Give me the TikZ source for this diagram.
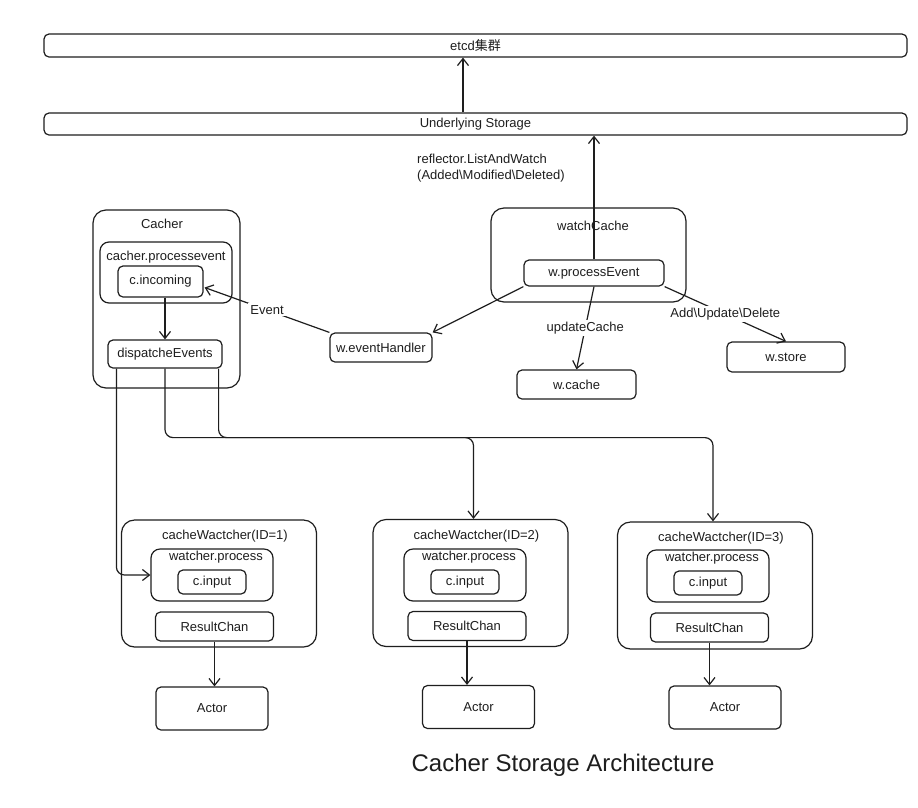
\documentclass[tikz,border=0pt]{standalone}
\usepackage{fontspec}
\setmainfont{Liberation Sans}
\newfontfamily\cjk{Noto Sans CJK SC}
\usetikzlibrary{arrows.meta,calc}
\definecolor{ink}{HTML}{1E1E1E}
\begin{document}
\begin{tikzpicture}[x=1pt,y=-1pt,
  lbl/.style={font=\fontsize{13}{16}\selectfont, text=ink, inner sep=1pt},
  box/.style={draw=ink, line width=1.2pt, rounded corners=5pt, inner sep=0pt, lbl},
  bigbox/.style={box, rounded corners=13pt},
  conn/.style={draw=ink, line width=1.2pt, -{Straight Barb[length=7pt,width=11pt]}},
  cutlbl/.style={lbl, fill=white, inner sep=2pt}]
\useasboundingbox (0,0) rectangle (918,807);
\fill[white] (0,0) rectangle (918,807);

% top bars
\node[box, minimum width=863pt, minimum height=23pt] (etcd) at (475.5,45.5) {etcd{\cjk 集群}};
\node[box, minimum width=863pt, minimum height=22pt] (und) at (475.5,124) {Underlying Storage};
\coordinate (ux) at (463,0);
\draw[conn] (ux |- und.north) -- (ux |- etcd.south);

% watchCache
\node[bigbox, minimum width=195pt, minimum height=94pt] (wc) at (588.5,255) {};
\node[lbl] (wclbl) at (593,226) {watchCache};
\node[box, minimum width=140pt, minimum height=26pt] (wpe) at (594,273) {w.processEvent};
\draw[conn] (wpe.north) -- (wpe.north |- und.south);
\node[lbl, anchor=west, align=left] (refl) at (416,168) {reflector.ListAndWatch\\(Added\textbackslash Modified\textbackslash Deleted)};

% Cacher
\node[bigbox, minimum width=147pt, minimum height=178pt] (cacher) at (166.5,299) {};
\node[lbl] (cacherlbl) at (162,224) {Cacher};
\node[box, rounded corners=9pt, minimum width=132pt, minimum height=61pt] (cpe) at (166,272.5) {};
\node[lbl] (cpelbl) at (166,257) {cacher.processevent};
\node[box, minimum width=85pt, minimum height=31pt] (cin) at (160.5,281.5) {c.incoming};
\node[box, minimum width=114pt, minimum height=28pt] (disp) at (165,354) {dispatcheEvents};
\draw[conn] (disp.north |- cin.south) -- (disp.north);

% handlers
\node[box, minimum width=102pt, minimum height=29pt] (weh) at (381,347.5) {w.eventHandler};
\node[box, minimum width=119pt, minimum height=29pt] (wcache) at (576.5,384.5) {w.cache};
\node[box, minimum width=118pt, minimum height=30pt] (wstore) at (786,357) {w.store};

\draw[conn] (wpe.south west) -- (weh.north east);
\draw[conn] (weh.north west) -- node[cutlbl] {Event} ($(cin.east)+(1,6)$);
\draw[conn] (wpe.south) -- node[cutlbl] {updateCache} (wcache.north);
\draw[conn] (wpe.south east) -- node[cutlbl] {Add\textbackslash Update\textbackslash Delete} (wstore.north);

% watchers
\foreach \i/\cx/\cy/\px/\py/\rx/\ry/\ax/\ay in {
  1/219/583.5/212/575/214.5/626.5/212/708.5,
  2/470.5/583/465/575/467/626/478.5/707,
  3/715/585.5/708/576/709.5/627.5/725/707.5}{
  \node[bigbox, minimum width=195pt, minimum height=127pt] (w\i) at (\cx,\cy) {};
  \node[lbl] (w\i lbl) at ($(w\i.north)+(6,17)$) {cacheWactcher(ID=\i)};
  \node[box, rounded corners=9pt, minimum width=122pt, minimum height=52pt] (wp\i) at (\px,\py) {};
  \node[lbl] (wp\i lbl) at ($(wp\i.north)+(4,9)$) {watcher.process};
  \node[box, minimum width=68pt, minimum height=24pt] (ci\i) at ($(wp\i.center)+(0,7)$) {c.input};
  \node[box, minimum width=118pt, minimum height=29pt] (rc\i) at (\rx,\ry) {ResultChan};
  \node[box, minimum width=112pt, minimum height=43pt] (act\i) at (\ax,\ay) {Actor};
  \draw[conn] (rc\i.south) -- (rc\i.south |- act\i.north);
}

% dispatch connectors
\draw[conn, rounded corners=8pt] ($(disp.south west)+(9,0)$) |- (wp1.west);
\draw[conn, rounded corners=8pt] (disp.south) -- ++(0,69) -| ($(w2.north)+(3,0)$);
\draw[conn, rounded corners=8pt] ($(disp.south east)+(-4,0)$) -- ++(0,69) -| ($(w3.north)+(-2,0)$);

% title
\node[font=\fontsize{24}{28}\selectfont, text=ink] (title) at (563,765) {Cacher Storage Architecture};
\end{tikzpicture}
\end{document}
